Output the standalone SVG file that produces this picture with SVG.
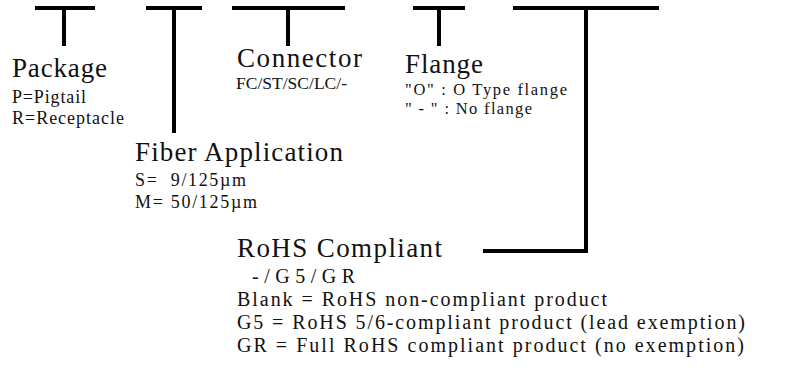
<svg xmlns="http://www.w3.org/2000/svg" width="790" height="375" viewBox="0 0 790 375">
<style>
.ln{fill:none;stroke:#000;stroke-width:4;stroke-linecap:butt;stroke-linejoin:miter}
text{font-family:"Liberation Serif","Times New Roman",serif;fill:#111;white-space:pre}
.h{font-size:27px}
.s{font-size:18px}
.f{font-size:16.5px}
.c{font-size:17.5px}
.r{font-size:20px}
</style>
<rect width="790" height="375" fill="#fff"/>
<g id="connectors">
<path class="ln" d="M35 8H95M64 8V46"/>
<path class="ln" d="M146 8H202M174 8V133"/>
<path class="ln" d="M232 8H345M288 8V46"/>
<path class="ln" d="M413 8H465M439 8V46"/>
<path class="ln" d="M513 8H659M586 8V251H483"/>
</g>
<g id="package">
<text class="h" x="12" y="77" textLength="95">Package</text>
<text class="s" x="12" y="103" textLength="74">P=Pigtail</text>
<text class="s" x="12" y="124" textLength="112">R=Receptacle</text>
</g>
<g id="fiber-application">
<text class="h" x="135" y="161" textLength="208">Fiber Application</text>
<text class="s" x="135" y="186" textLength="111">S=  9/125µm</text>
<text class="s" x="135" y="208" textLength="122">M= 50/125µm</text>
</g>
<g id="connector">
<text class="h" x="237" y="66.5" textLength="125">Connector</text>
<text class="c" x="236" y="88.5" textLength="111">FC/ST/SC/LC/-</text>
</g>
<g id="flange">
<text class="h" x="405" y="73" textLength="78">Flange</text>
<text class="f" x="405" y="95" textLength="162">"O" : O Type flange</text>
<text class="f" x="405" y="114" textLength="127">" - " : No flange</text>
</g>
<g id="rohs">
<text class="h" x="237" y="257" textLength="205">RoHS Compliant</text>
<text class="r" x="252" y="283" textLength="103">-/G5/GR</text>
<text class="r" x="237" y="306" textLength="370">Blank = RoHS non-compliant product</text>
<text class="r" x="237" y="329" textLength="508">G5 = RoHS 5/6-compliant product (lead exemption)</text>
<text class="r" x="237" y="352" textLength="507">GR = Full RoHS compliant product (no exemption)</text>
</g>
</svg>
